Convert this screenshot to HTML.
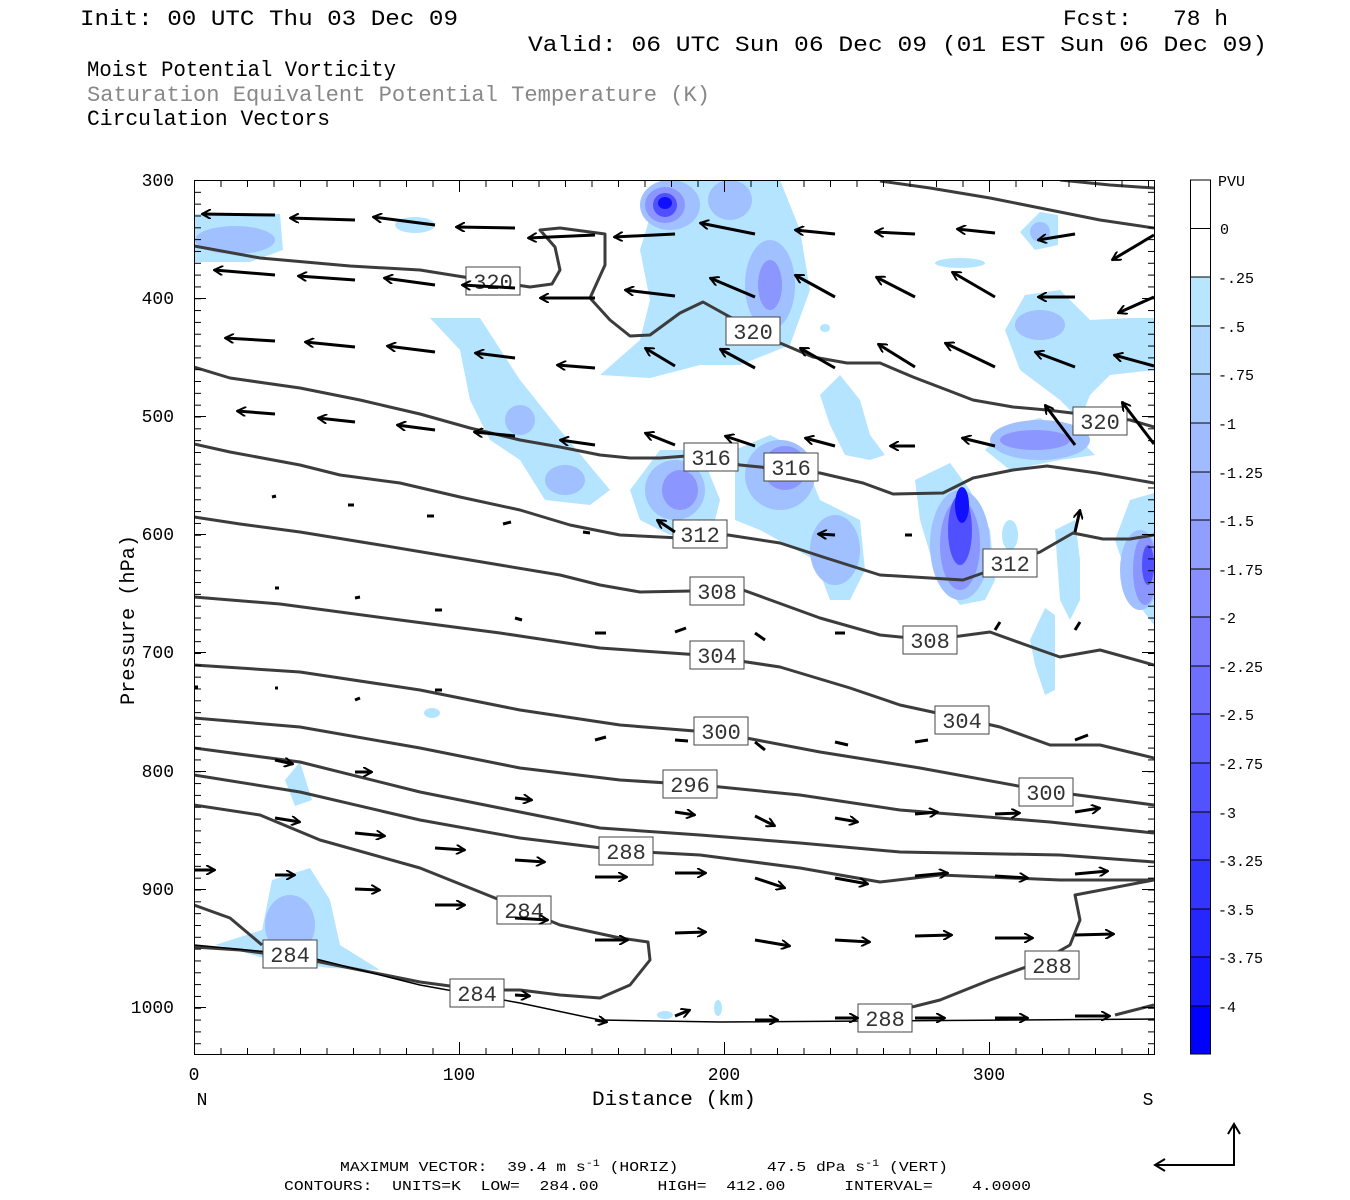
<!DOCTYPE html>
<html><head><meta charset="utf-8"><style>
html,body{margin:0;padding:0;background:#fff;}
svg{display:block;}
text{font-family:"Liberation Mono","DejaVu Sans Mono",monospace;white-space:pre;}
</style></head><body>
<svg width="1350" height="1200" viewBox="0 0 1350 1200" xmlns="http://www.w3.org/2000/svg" xml:space="preserve">
<defs>
<marker id="ah" markerWidth="10" markerHeight="10" refX="9" refY="5" orient="auto" markerUnits="userSpaceOnUse">
<path d="M0,0 L9,5 L0,10" fill="none" stroke="#000" stroke-width="2"/>
</marker>
<clipPath id="pc"><rect x="194" y="180" width="960" height="874"/></clipPath>
<pattern id="vt" x="0" y="180" width="10" height="11.825" patternUnits="userSpaceOnUse"><rect x="0" y="0" width="10" height="1" fill="#000"/></pattern>
<pattern id="ht" x="194" y="0" width="26.5" height="10" patternUnits="userSpaceOnUse"><rect x="0" y="0" width="1" height="10" fill="#000"/></pattern>
</defs>
<rect width="1350" height="1200" fill="#fff"/>
<!-- header -->
<g font-size="22" fill="#000">
<text x="80" y="25" textLength="378" lengthAdjust="spacingAndGlyphs">Init: 00 UTC Thu 03 Dec 09</text>
<text x="1063" y="25" textLength="165" lengthAdjust="spacingAndGlyphs">Fcst:   78 h</text>
<text x="528" y="51" textLength="739" lengthAdjust="spacingAndGlyphs">Valid: 06 UTC Sun 06 Dec 09 (01 EST Sun 06 Dec 09)</text>
<text x="87" y="76" textLength="309" lengthAdjust="spacingAndGlyphs">Moist Potential Vorticity</text>
<text x="87" y="101" fill="#888" textLength="623" lengthAdjust="spacingAndGlyphs">Saturation Equivalent Potential Temperature (K)</text>
<text x="87" y="125" textLength="243" lengthAdjust="spacingAndGlyphs">Circulation Vectors</text>
</g>
<!-- PV shading -->
<g clip-path="url(#pc)">
<g fill="#b4e4ff">
<path d="M194,214 L280,214 L283,250 L250,262 L194,262 Z"/>
<ellipse cx="415" cy="225" rx="20" ry="8"/>
<path d="M430,318 L480,318 L520,380 L560,430 L610,490 L590,505 L545,500 L520,460 L490,440 L470,400 L460,350 Z"/>
<path d="M600,375 L640,340 L650,300 L640,250 L655,200 L660,180 L780,180 L800,230 L810,290 L790,345 L740,365 L700,365 L650,378 Z"/>
<ellipse cx="825" cy="328" rx="5" ry="4"/>
<path d="M820,395 L840,375 L860,400 L870,435 L885,455 L870,460 L845,455 L830,425 Z"/>
<ellipse cx="960" cy="263" rx="25" ry="5"/>
<path d="M1020,232 L1040,212 L1058,215 L1058,245 L1035,250 Z"/>
<path d="M1005,330 L1025,295 L1060,290 L1090,320 L1130,318 L1154,318 L1154,370 L1110,375 L1090,395 L1080,420 L1060,400 L1020,370 Z"/>
<path d="M630,490 L660,450 L700,450 L720,500 L710,540 L670,535 L640,520 Z"/>
<path d="M735,450 L770,435 L800,450 L820,500 L860,520 L865,570 L850,600 L830,600 L815,560 L760,530 L735,520 Z"/>
<path d="M915,480 L950,463 L970,490 L990,530 L995,580 L985,600 L960,605 L935,570 L920,520 Z"/>
<path d="M985,450 L1010,425 L1040,418 L1080,440 L1095,455 L1060,460 L1010,470 Z"/>
<path d="M1115,540 L1130,500 L1154,493 L1154,625 L1135,600 Z"/>
<path d="M1055,530 L1075,520 L1080,560 L1080,600 L1070,620 L1060,600 Z"/>
<path d="M1030,640 L1045,608 L1055,615 L1055,690 L1045,695 L1035,665 Z"/>
<ellipse cx="1010" cy="535" rx="8" ry="15"/>
<path d="M285,780 L300,762 L312,800 L295,806 Z"/>
<ellipse cx="432" cy="713" rx="8" ry="5"/>
<path d="M215,945 L262,930 L272,880 L310,868 L330,900 L340,945 L380,970 L330,968 L270,960 L230,948 Z"/>
<ellipse cx="665" cy="1015" rx="8" ry="4"/>
<ellipse cx="718" cy="1008" rx="4" ry="8"/>
</g>
<g fill="#a0c0ff">
<ellipse cx="235" cy="240" rx="40" ry="14"/>
<ellipse cx="520" cy="420" rx="15" ry="15"/>
<ellipse cx="565" cy="480" rx="20" ry="15"/>
<ellipse cx="770" cy="285" rx="25" ry="45"/>
<ellipse cx="670" cy="205" rx="30" ry="25"/>
<ellipse cx="730" cy="200" rx="22" ry="20"/>
<ellipse cx="675" cy="490" rx="30" ry="30"/>
<ellipse cx="780" cy="475" rx="35" ry="35"/>
<ellipse cx="835" cy="550" rx="25" ry="35"/>
<ellipse cx="960" cy="545" rx="30" ry="55"/>
<ellipse cx="1040" cy="440" rx="50" ry="20"/>
<ellipse cx="1040" cy="325" rx="25" ry="15"/>
<ellipse cx="1140" cy="570" rx="20" ry="40"/>
<ellipse cx="290" cy="925" rx="25" ry="30"/>
<ellipse cx="1040" cy="232" rx="10" ry="10"/>
</g>
<g fill="#8c96ff">
<ellipse cx="665" cy="205" rx="20" ry="18"/>
<ellipse cx="680" cy="490" rx="18" ry="20"/>
<ellipse cx="785" cy="468" rx="22" ry="22"/>
<ellipse cx="960" cy="545" rx="20" ry="45"/>
<ellipse cx="1035" cy="440" rx="35" ry="10"/>
<ellipse cx="1145" cy="570" rx="12" ry="35"/>
<ellipse cx="770" cy="285" rx="12" ry="25"/>
</g>
<g fill="#5050ff">
<ellipse cx="665" cy="205" rx="12" ry="12"/>
<ellipse cx="960" cy="530" rx="12" ry="35"/>
<ellipse cx="785" cy="465" rx="10" ry="10"/>
<ellipse cx="1148" cy="565" rx="6" ry="20"/>
</g>
<g fill="#1010ff">
<ellipse cx="665" cy="203" rx="7" ry="6"/>
<ellipse cx="962" cy="505" rx="7" ry="18"/>
</g>
</g>
<!-- contours -->
<g fill="none" stroke="#3c3c3c" stroke-width="3" stroke-linejoin="round" clip-path="url(#pc)">
<polyline points="880,181 930,188 990,198 1050,210 1100,220 1154,228"/>
<polyline points="1060,180 1110,185 1154,188"/>
<polyline points="194,246 260,258 350,266 420,270 470,278 530,287 552,284 560,270 555,247 540,230 560,228 605,234 605,265 590,298 610,320 630,336 650,335 680,313 703,302 730,317 780,343 813,357 847,363 880,363 913,377 947,390 973,400 1013,407 1047,410 1130,420 1154,427"/>
<polyline points="194,367 230,378 300,388 360,400 420,414 470,428 520,440 560,447 600,455 630,458 660,458 700,455 740,465 820,473 863,483 893,494 943,493 973,478 1013,470 1047,466 1097,473 1154,483"/>
<polyline points="194,444 230,452 300,465 340,475 400,483 460,497 520,510 570,525 620,535 680,538 728,535 780,543 823,557 880,575 963,580 983,573 1040,552 1073,533 1103,539 1130,539 1154,535"/>
<polyline points="194,517 240,524 300,532 380,545 440,555 500,565 560,575 600,585 640,592 743,590 820,618 880,635 930,640 990,632 1040,650 1060,657 1100,650 1154,665"/>
<polyline points="194,597 280,604 400,620 500,633 600,648 700,655 780,667 850,688 900,705 960,718 1000,727 1050,745 1100,745 1154,758"/>
<polyline points="194,665 300,672 420,690 520,710 620,725 720,733 820,752 920,768 1040,790 1154,805"/>
<polyline points="194,718 300,727 420,748 520,768 620,780 700,785 800,795 900,810 1050,822 1154,833"/>
<polyline points="194,748 300,762 420,792 520,812 600,828 700,835 800,843 900,852 1060,855 1154,862"/>
<polyline points="194,775 300,792 420,820 520,838 626,851 700,855 800,868 880,882 940,875 1060,880 1154,880"/>
<polyline points="194,805 260,815 320,840 420,868 500,900 560,925 620,938 648,942 650,960 630,985 600,998 560,995 520,990 480,990 420,982 350,968 300,958 240,950 194,947"/>
<polyline points="194,905 230,918 262,945"/>
<polyline points="1154,880 1075,895 1080,920 1070,945 1040,962 990,980 940,1000 880,1015"/>
<polyline points="1115,1015 1154,1005"/>
</g>
<polyline points="194,945 300,955 420,985 520,1003 600,1020 720,1022 1154,1019" fill="none" stroke="#000" stroke-width="1.5"/>
<!-- contour labels -->
<g font-size="22" fill="#333" text-anchor="middle">
<g stroke="#444" stroke-width="1" fill="#fff">
<rect x="466" y="267" width="54" height="28"/><rect x="726" y="317" width="54" height="28"/>
<rect x="1073" y="407" width="54" height="28"/><rect x="684" y="443" width="54" height="28"/>
<rect x="764" y="453" width="54" height="28"/><rect x="673" y="520" width="54" height="28"/>
<rect x="983" y="549" width="54" height="28"/><rect x="690" y="577" width="54" height="28"/>
<rect x="903" y="626" width="54" height="28"/><rect x="690" y="641" width="54" height="28"/>
<rect x="935" y="706" width="54" height="28"/><rect x="694" y="717" width="54" height="28"/>
<rect x="663" y="770" width="54" height="28"/><rect x="1019" y="778" width="54" height="28"/>
<rect x="599" y="837" width="54" height="28"/><rect x="497" y="896" width="54" height="28"/>
<rect x="263" y="940" width="54" height="28"/><rect x="1025" y="951" width="54" height="28"/>
<rect x="450" y="979" width="54" height="28"/><rect x="858" y="1004" width="54" height="28"/>
</g>
<text x="493" y="289">320</text><text x="753" y="339">320</text><text x="1100" y="429">320</text>
<text x="711" y="465">316</text><text x="791" y="475">316</text><text x="700" y="542">312</text>
<text x="1010" y="571">312</text><text x="717" y="599">308</text><text x="930" y="648">308</text>
<text x="717" y="663">304</text><text x="962" y="728">304</text><text x="721" y="739">300</text>
<text x="690" y="792">296</text><text x="1046" y="800">300</text><text x="626" y="859">288</text>
<text x="524" y="918">284</text><text x="290" y="962">284</text><text x="1052" y="973">288</text>
<text x="477" y="1001">284</text><text x="885" y="1026">288</text>
</g>
<!-- vectors -->
<g stroke="#000" stroke-width="3" marker-end="url(#ah)" fill="none">
<line x1="275" y1="215" x2="202" y2="214"/><line x1="355" y1="220" x2="290" y2="218"/>
<line x1="435" y1="225" x2="373" y2="217"/><line x1="515" y1="228" x2="456" y2="227"/>
<line x1="595" y1="235" x2="528" y2="238"/><line x1="675" y1="234" x2="614" y2="237"/>
<line x1="755" y1="234" x2="700" y2="223"/><line x1="835" y1="234" x2="795" y2="230"/>
<line x1="915" y1="234" x2="875" y2="232"/><line x1="995" y1="233" x2="957" y2="229"/>
<line x1="1075" y1="234" x2="1038" y2="240"/><line x1="1154" y1="235" x2="1112" y2="260"/>
<line x1="275" y1="275" x2="214" y2="270"/><line x1="355" y1="280" x2="298" y2="276"/>
<line x1="435" y1="285" x2="384" y2="278"/><line x1="515" y1="288" x2="462" y2="285"/>
<line x1="595" y1="298" x2="540" y2="298"/><line x1="675" y1="296" x2="625" y2="290"/>
<line x1="755" y1="297" x2="710" y2="278"/><line x1="835" y1="297" x2="795" y2="275"/>
<line x1="915" y1="297" x2="876" y2="277"/><line x1="995" y1="297" x2="952" y2="272"/>
<line x1="1075" y1="297" x2="1038" y2="297"/><line x1="1154" y1="297" x2="1118" y2="313"/>
<line x1="275" y1="341" x2="225" y2="338"/><line x1="355" y1="347" x2="305" y2="342"/>
<line x1="435" y1="352" x2="387" y2="346"/><line x1="515" y1="358" x2="475" y2="353"/>
<line x1="595" y1="368" x2="557" y2="365"/><line x1="675" y1="366" x2="645" y2="348"/>
<line x1="755" y1="368" x2="720" y2="349"/><line x1="835" y1="368" x2="800" y2="348"/>
<line x1="915" y1="367" x2="878" y2="344"/><line x1="995" y1="367" x2="945" y2="343"/>
<line x1="1075" y1="367" x2="1035" y2="352"/><line x1="1154" y1="366" x2="1114" y2="355"/>
<line x1="275" y1="414" x2="237" y2="411"/><line x1="355" y1="422" x2="318" y2="418"/>
<line x1="435" y1="430" x2="397" y2="425"/><line x1="515" y1="436" x2="474" y2="432"/>
<line x1="595" y1="445" x2="560" y2="440"/><line x1="675" y1="445" x2="645" y2="433"/>
<line x1="755" y1="446" x2="725" y2="436"/><line x1="835" y1="446" x2="805" y2="438"/>
<line x1="915" y1="446" x2="890" y2="446"/><line x1="995" y1="446" x2="962" y2="438"/>
<line x1="1075" y1="445" x2="1045" y2="405"/><line x1="1154" y1="444" x2="1122" y2="402"/>
<line x1="675" y1="532" x2="657" y2="520"/><line x1="835" y1="535" x2="818" y2="534"/>
<line x1="1075" y1="532" x2="1080" y2="510"/>
<line x1="275" y1="875" x2="295" y2="875" /><line x1="355" y1="889" x2="380" y2="890"/>
<line x1="435" y1="905" x2="465" y2="905"/><line x1="515" y1="918" x2="548" y2="920"/>
<line x1="595" y1="940" x2="628" y2="940"/><line x1="675" y1="933" x2="706" y2="932"/>
<line x1="755" y1="940" x2="790" y2="946"/><line x1="835" y1="940" x2="870" y2="942"/>
<line x1="915" y1="936" x2="952" y2="935"/><line x1="995" y1="938" x2="1033" y2="938"/>
<line x1="1075" y1="935" x2="1114" y2="934"/>
<line x1="355" y1="833" x2="385" y2="836"/><line x1="435" y1="848" x2="465" y2="850"/>
<line x1="515" y1="860" x2="545" y2="862"/><line x1="595" y1="877" x2="627" y2="877"/>
<line x1="675" y1="873" x2="706" y2="873"/><line x1="755" y1="878" x2="785" y2="888"/>
<line x1="835" y1="878" x2="868" y2="884"/><line x1="915" y1="876" x2="948" y2="873"/>
<line x1="995" y1="876" x2="1028" y2="878"/><line x1="1075" y1="874" x2="1108" y2="871"/>
<line x1="194" y1="870" x2="215" y2="870"/>
<line x1="275" y1="818" x2="300" y2="822"/><line x1="755" y1="816" x2="775" y2="826"/>
<line x1="835" y1="818" x2="858" y2="822"/><line x1="915" y1="814" x2="938" y2="812"/>
<line x1="995" y1="814" x2="1020" y2="813"/><line x1="1075" y1="812" x2="1100" y2="808"/>
<line x1="675" y1="812" x2="695" y2="815"/><line x1="515" y1="798" x2="532" y2="800"/>
<line x1="355" y1="772" x2="372" y2="772"/><line x1="275" y1="760" x2="293" y2="764"/>
<line x1="595" y1="1020" x2="607" y2="1022"/><line x1="755" y1="1020" x2="778" y2="1020"/>
<line x1="915" y1="1018" x2="945" y2="1018"/><line x1="995" y1="1018" x2="1028" y2="1018"/>
<line x1="1075" y1="1016" x2="1110" y2="1016"/><line x1="835" y1="1018" x2="858" y2="1018"/>
<line x1="675" y1="1016" x2="690" y2="1010"/><line x1="515" y1="995" x2="530" y2="996"/>
</g>
<g stroke="#000" stroke-width="3">
<line x1="755" y1="742" x2="765" y2="750"/><line x1="835" y1="742" x2="848" y2="745"/>
<line x1="915" y1="742" x2="928" y2="740"/><line x1="1075" y1="740" x2="1088" y2="735"/>
<line x1="595" y1="740" x2="606" y2="737"/><line x1="675" y1="740" x2="688" y2="741"/>
<line x1="595" y1="633" x2="606" y2="633"/><line x1="675" y1="632" x2="686" y2="628"/>
<line x1="755" y1="633" x2="765" y2="640"/><line x1="835" y1="633" x2="845" y2="633"/>
<line x1="995" y1="630" x2="1000" y2="622"/><line x1="1075" y1="630" x2="1080" y2="622"/>
<line x1="435" y1="610" x2="442" y2="610"/><line x1="515" y1="618" x2="522" y2="620"/>
<line x1="355" y1="598" x2="360" y2="597"/><line x1="275" y1="588" x2="279" y2="588"/>
<line x1="272" y1="497" x2="276" y2="496"/><line x1="348" y1="505" x2="354" y2="505"/>
<line x1="427" y1="516" x2="434" y2="516"/><line x1="503" y1="524" x2="511" y2="522"/>
<line x1="583" y1="532" x2="590" y2="533"/><line x1="905" y1="535" x2="912" y2="535"/>
<line x1="435" y1="690" x2="442" y2="690"/><line x1="355" y1="700" x2="360" y2="698"/>
<line x1="275" y1="688" x2="278" y2="688"/><line x1="194" y1="687" x2="198" y2="687"/>
</g>
<!-- frame & ticks -->
<rect x="194.5" y="180.5" width="960" height="874" fill="none" stroke="#000" stroke-width="1"/>
<rect x="194" y="180" width="7" height="874" fill="url(#vt)"/>
<rect x="1148" y="180" width="7" height="874" fill="url(#vt)"/>
<rect x="194" y="180" width="960" height="7" fill="url(#ht)"/>
<rect x="194" y="1048" width="960" height="7" fill="url(#ht)"/>
<g stroke="#000" stroke-width="1">
<path d="M194,298.5h12M194,416.5h12M194,534.5h12M194,652.5h12M194,771.5h12M194,889.5h12M194,1007.5h12"/>
<path d="M1154,298.5h-12M1154,416.5h-12M1154,534.5h-12M1154,652.5h-12M1154,771.5h-12M1154,889.5h-12M1154,1007.5h-12"/>
<path d="M459.5,180v12M724.5,180v12M989.5,180v12M459.5,1054v-12M724.5,1054v-12M989.5,1054v-12"/>
</g>
<!-- axis labels -->
<g font-size="18" fill="#000" text-anchor="end">
<text x="174" y="186">300</text><text x="174" y="304">400</text><text x="174" y="422">500</text>
<text x="174" y="540">600</text><text x="174" y="658">700</text><text x="174" y="777">800</text>
<text x="174" y="895">900</text><text x="174" y="1013">1000</text>
</g>
<g font-size="18" fill="#000" text-anchor="middle">
<text x="194" y="1080">0</text><text x="459" y="1080">100</text><text x="724" y="1080">200</text><text x="989" y="1080">300</text>
<text x="202" y="1105">N</text><text x="1148" y="1105">S</text>
</g>
<text x="592" y="1105" font-size="20" textLength="164" lengthAdjust="spacingAndGlyphs">Distance (km)</text>
<text transform="translate(134,705) rotate(-90)" font-size="20" textLength="170" lengthAdjust="spacingAndGlyphs">Pressure (hPa)</text>
<!-- colorbar -->
<g stroke="#000" stroke-width="1">
<rect x="1190.5" y="180" width="20" height="97" fill="#fff"/>
<rect x="1190.5" y="277" width="20" height="49" fill="#b8e6ff"/>
<rect x="1190.5" y="326" width="20" height="48" fill="#b0d8ff"/>
<rect x="1190.5" y="374" width="20" height="49" fill="#a8caff"/>
<rect x="1190.5" y="423" width="20" height="49" fill="#a0bcff"/>
<rect x="1190.5" y="472" width="20" height="48" fill="#98adff"/>
<rect x="1190.5" y="520" width="20" height="49" fill="#909eff"/>
<rect x="1190.5" y="569" width="20" height="48" fill="#888eff"/>
<rect x="1190.5" y="617" width="20" height="49" fill="#7c7cff"/>
<rect x="1190.5" y="666" width="20" height="48" fill="#6e6eff"/>
<rect x="1190.5" y="714" width="20" height="49" fill="#6060ff"/>
<rect x="1190.5" y="763" width="20" height="49" fill="#5252ff"/>
<rect x="1190.5" y="812" width="20" height="48" fill="#4444ff"/>
<rect x="1190.5" y="860" width="20" height="49" fill="#3434ff"/>
<rect x="1190.5" y="909" width="20" height="48" fill="#2626ff"/>
<rect x="1190.5" y="957" width="20" height="49" fill="#1818ff"/>
<rect x="1190.5" y="1006" width="20" height="48" fill="#0000ff"/>
<line x1="1190" y1="228.5" x2="1210" y2="228.5"/>
</g>
<g font-size="15" fill="#000">
<text x="1218" y="186">PVU</text><text x="1220" y="234">0</text>
<text x="1218" y="283">-.25</text><text x="1218" y="332">-.5</text><text x="1218" y="380">-.75</text>
<text x="1218" y="429">-1</text><text x="1218" y="478">-1.25</text><text x="1218" y="526">-1.5</text>
<text x="1218" y="575">-1.75</text><text x="1218" y="623">-2</text><text x="1218" y="672">-2.25</text>
<text x="1218" y="720">-2.5</text><text x="1218" y="769">-2.75</text><text x="1218" y="818">-3</text>
<text x="1218" y="866">-3.25</text><text x="1218" y="915">-3.5</text><text x="1218" y="963">-3.75</text>
<text x="1218" y="1012">-4</text>
</g>
<!-- footer -->
<g font-size="14" fill="#000">
<text x="340" y="1171" textLength="608" lengthAdjust="spacingAndGlyphs">MAXIMUM VECTOR:  39.4 m s<tspan dy="-5" font-size="10">-1</tspan><tspan dy="5"> (HORIZ)         47.5 dPa s</tspan><tspan dy="-5" font-size="10">-1</tspan><tspan dy="5"> (VERT)</tspan></text>
<text x="284" y="1190" textLength="747" lengthAdjust="spacingAndGlyphs">CONTOURS:  UNITS=K  LOW=  284.00      HIGH=  412.00      INTERVAL=    4.0000</text>
</g>
<g stroke="#000" stroke-width="2" fill="none">
<polyline points="1234,1124 1234,1165 1155,1165"/>
<polyline points="1228,1134 1234,1124 1240,1134"/>
<polyline points="1165,1159 1155,1165 1165,1171"/>
</g>
</svg>
</body></html>
